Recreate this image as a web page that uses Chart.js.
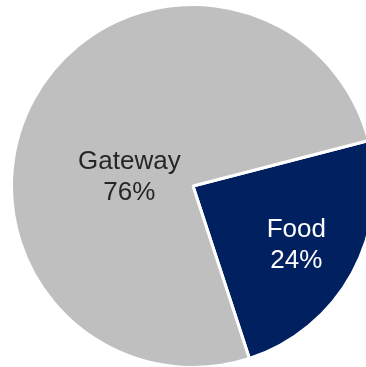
<!DOCTYPE html>
<html>
<head>
<meta charset="utf-8">
<script src="https://cdn.jsdelivr.net/npm/chart.js@4/dist/chart.umd.min.js"></script>
<style>
  html, body { margin: 0; padding: 0; background: #fff; overflow: hidden; }
  body { width: 366px; height: 367px; position: relative; }
  #wrap { position: absolute; left: 0; top: 0; width: 386px; height: 372px; }
</style>
</head>
<body>
<div id="wrap"><canvas id="pieChart"></canvas></div>
<script>
const categories = ["Food", "Gateway"];
const shares = [24, 76];
const sliceColors = ["#002060", "#BFBFBF"];
const labelColors = ["#FFFFFF", "#262626"];

// where each label sits: fraction of radius, and angle nudge (degrees)
const labelPlace = [
  { frac: 0.655, shift: 1 },
  { frac: 0.354, shift: -20.6 }
];

const sliceLabels = {
  id: "sliceLabels",
  afterDatasetsDraw(chart) {
    const ctx = chart.ctx;
    const meta = chart.getDatasetMeta(0);
    const total = shares.reduce((a, b) => a + b, 0);
    ctx.save();
    ctx.font = "26px 'Liberation Sans', Arial, sans-serif";
    ctx.textAlign = "center";
    ctx.textBaseline = "middle";
    meta.data.forEach((arc, i) => {
      const p = arc.getProps(["x", "y", "startAngle", "endAngle", "outerRadius"], true);
      const mid = (p.startAngle + p.endAngle) / 2 + labelPlace[i].shift * Math.PI / 180;
      const d = p.outerRadius * labelPlace[i].frac;
      const x = p.x + Math.cos(mid) * d;
      const y = p.y + Math.sin(mid) * d;
      const pct = Math.round(shares[i] / total * 100) + "%";
      ctx.fillStyle = labelColors[i];
      ctx.fillText(categories[i], x, y - 15.5);
      ctx.fillText(pct, x, y + 15.5);
    });
    ctx.restore();
  }
};

new Chart(document.getElementById("pieChart"), {
  type: "pie",
  data: {
    labels: categories,
    datasets: [{
      data: shares,
      backgroundColor: sliceColors,
      borderColor: "#FFFFFF",
      borderWidth: 3,
      radius: 181.5
    }]
  },
  options: {
    responsive: true,
    maintainAspectRatio: false,
    animation: false,
    rotation: 75.5,
    layout: { padding: 0 },
    plugins: {
      legend: { display: false },
      tooltip: { enabled: false }
    }
  },
  plugins: [sliceLabels]
});
</script>
</body>
</html>
